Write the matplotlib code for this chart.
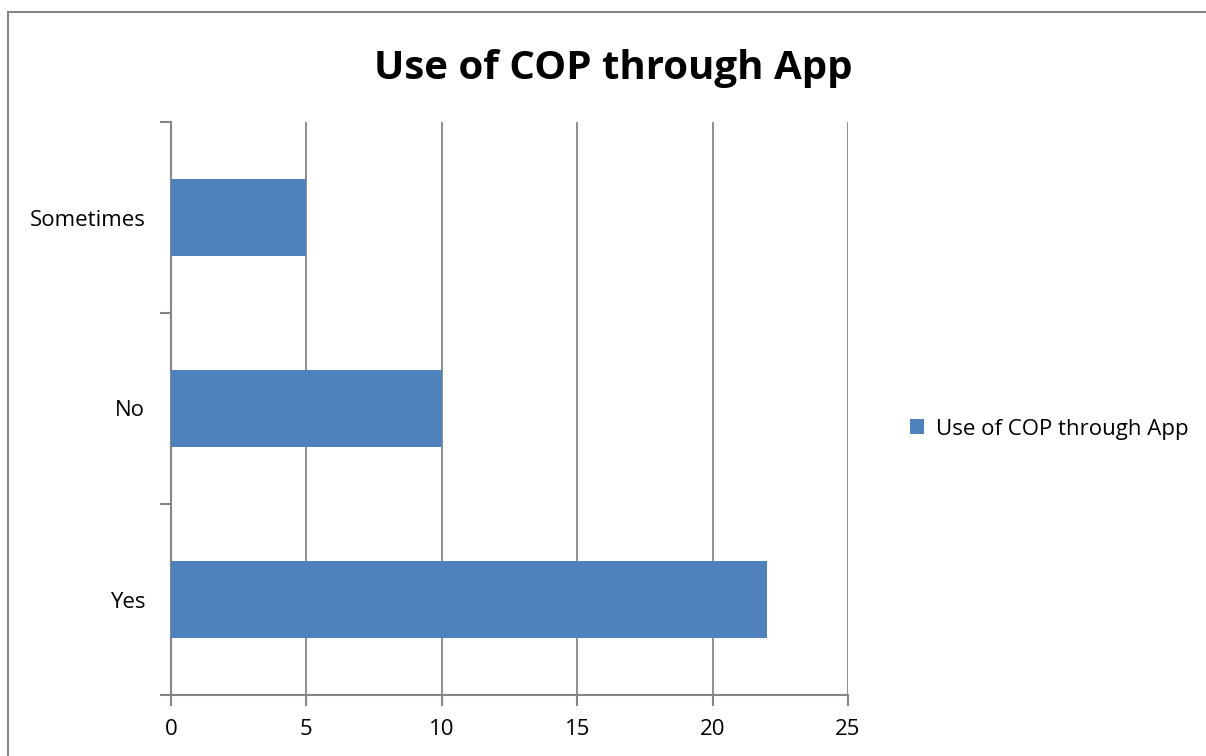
import matplotlib
matplotlib.use('Agg')
import matplotlib.pyplot as plt
from matplotlib.patches import Rectangle

categories = ['Yes', 'No', 'Sometimes']
values = [22, 10, 5]
series_name = 'Use of COP through App'
x_ticks = [0, 5, 10, 15, 20, 25]

plt.rcParams['font.family'] = ['Open Sans', 'DejaVu Sans']

bar_color = '#4F81BD'
line_color = '#868686'

fig = plt.figure(figsize=(12.06, 7.56), dpi=100)
ax = fig.add_axes([171 / 1206, 61 / 756, 677 / 1206, 573 / 756])

pos = list(range(len(categories)))
ax.barh(pos, values, height=0.4, color=bar_color, label=series_name, zorder=3)

ax.set_xlim(0, 25)
ax.set_ylim(-0.5, len(categories) - 0.5)
ax.set_xticks(x_ticks)
ax.set_xticklabels([str(t) for t in x_ticks], fontsize=16)
ax.set_yticks(pos)
ax.set_yticklabels(categories, fontsize=16)
ax.yaxis.set_ticks_position('none')
# category boundary ticks on the value axis
ax.set_yticks([p - 0.5 for p in pos] + [len(categories) - 0.5], minor=True)
ax.tick_params(axis='y', which='minor', length=8, width=1.5, color=line_color, direction='out',
               left=True)
ax.tick_params(axis='x', length=8, width=1.5, color=line_color, direction='out', pad=9)
ax.tick_params(axis='y', which='major', pad=15)

ax.grid(axis='x', color=line_color, linewidth=1.3, zorder=0)
for s in ['top', 'right']:
    ax.spines[s].set_visible(False)
for s in ['left', 'bottom']:
    ax.spines[s].set_color(line_color)
    ax.spines[s].set_linewidth(1.5)

fig.text(613 / 1206, 1 - 68 / 756, series_name, fontsize=29, fontweight='bold',
         ha='center', va='center')

fig.legend(loc='center left', bbox_to_anchor=(890 / 1206, 1 - 429 / 756), frameon=False,
           fontsize=16, handlelength=0.65, handleheight=0.65, handletextpad=0.5)

# outer chart border
fig.patches.append(Rectangle((8 / 1206, -0.1), 1.2, 1 - 12 / 756 + 0.1, transform=fig.transFigure,
                             fill=False, edgecolor=line_color, linewidth=1.5))

fig.savefig('out.png', dpi=100)
